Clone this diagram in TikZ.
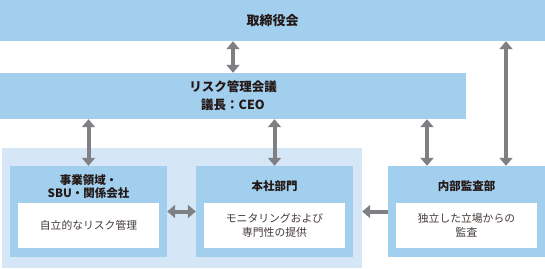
\documentclass[tikz,border=0pt]{standalone}
\usepackage{fontspec}
\setmainfont{Noto Sans CJK JP}
\usetikzlibrary{positioning, calc, arrows.meta}
\definecolor{sky}{HTML}{A3CFEF}
\definecolor{pale}{HTML}{D5E7F6}
\definecolor{steel}{HTML}{7E8084}
\definecolor{ink}{HTML}{231815}

\begin{document}
\begin{tikzpicture}[x=1pt, y=-1pt,
  bar/.style={fill=sky, inner sep=0pt, align=center, text=ink},
  unit/.style={fill=sky, inner sep=0pt, minimum width=157pt, minimum height=91pt},
  head/.style={text=ink, align=center, font=\bfseries\fontsize{11.5}{13}\selectfont},
  note/.style={fill=white, inner sep=0pt, minimum width=141pt, minimum height=45pt,
               align=center, text=ink!85, font=\fontsize{10.8}{14}\selectfont},
  link/.style={draw=steel, line width=4pt, {Triangle[width=13pt, length=8pt]}-{Triangle[width=13pt, length=8pt]}}
]
  \useasboundingbox (0,0) rectangle (545,268);

  % upper bars
  \node[bar, minimum width=545pt, minimum height=41pt,
        font=\bfseries\fontsize{13}{16}\selectfont] (board) at (272.5,20.5) {取締役会};
  \node[bar, minimum width=466pt, minimum height=46pt,
        font=\bfseries\fontsize{12.5}{18}\selectfont] (council) at (233,96) {リスク管理会議\\議長：CEO};

  % panel with the two units
  \node[fill=pale, inner sep=0pt, minimum width=360pt, minimum height=120pt] (panel) at (182,208) {};
  \node[unit] (biz) at (88.5,211.5) {};
  \node[unit] (hq) at (274.5,211.5) {};
  \node[unit] (audit) at (466.5,211.5) {};

  \node[head] (bizhead) at (88.5,187) {事業領域・\\SBU・関係会社};
  \node[head] (hqhead) at (274.5,186) {本社部門};
  \node[head] (audithead) at (466.5,186) {内部監査部};

  \node[note] (biznote) at (88.5,225.5) {自立的なリスク管理};
  \node[note] (hqnote) at (274.5,225.5) {モニタリングおよび\\専門性の提供};
  \node[note] (auditnote) at (466.5,225.5) {独立した立場からの\\監査};

  % connectors
  \coordinate (auditl) at ($(audit.north)+(-39.5,0)$);
  \coordinate (auditr) at ($(audit.north)+(39.5,0)$);
  \draw[link] (board.south -| council.north) -- (council.north);
  \draw[link] (council.south -| biz.north) -- (biz.north);
  \draw[link] (council.south -| hq.north) -- (hq.north);
  \draw[link] (council.south -| auditl) -- (auditl);
  \draw[link] (board.south -| auditr) -- (auditr);
  \draw[link] (biz.east) -- (hq.west);
  \draw[draw=steel, line width=4pt, -{Triangle[width=13pt, length=8pt]}] (audit.west) -- (panel.east |- audit.west);
\end{tikzpicture}
\end{document}
